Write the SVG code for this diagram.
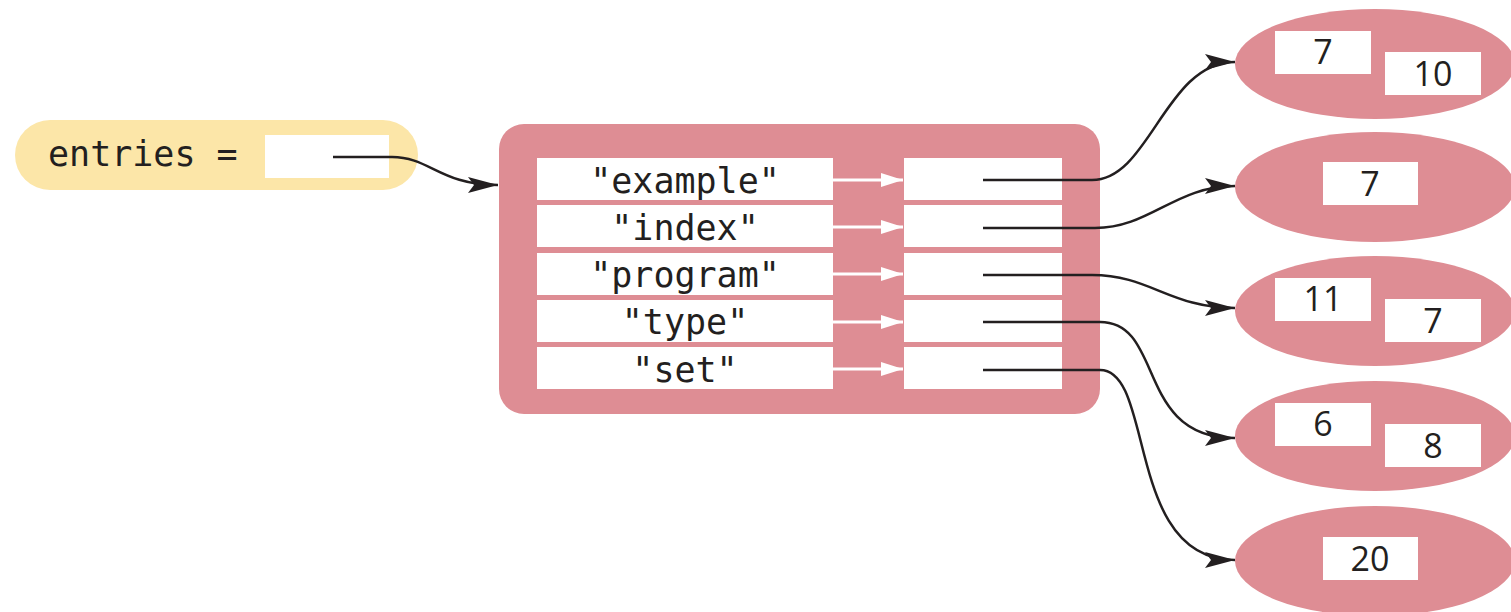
<svg xmlns="http://www.w3.org/2000/svg" width="1511" height="612" viewBox="0 0 1511 612">
<defs>
<style>
.pink{fill:#DE8D94}
.wb{fill:#FFFFFF}
.mono{font-family:"DejaVu Sans Mono","Liberation Mono",monospace;font-size:35px;fill:#231F20}
.num{font-family:"Open Sans","Liberation Sans",sans-serif;font-size:34px;fill:#231F20;text-anchor:middle}
.conn{fill:none;stroke:#231F20;stroke-width:2.5}
.wconn{fill:none;stroke:#FFFFFF;stroke-width:3}
</style>
<marker id="ah" markerUnits="userSpaceOnUse" markerWidth="32" markerHeight="20" refX="30" refY="10" orient="auto">
<path d="M0,2 L30,10 L0,18 L6,10 Z" fill="#231F20"/>
</marker>
<marker id="wah" markerUnits="userSpaceOnUse" markerWidth="24" markerHeight="16" refX="22" refY="8" orient="auto">
<path d="M0,1 L22,8 L0,15 Z" fill="#FFFFFF"/>
</marker>
</defs>
<rect width="1511" height="612" fill="#FFFFFF"/>

<g id="entries">
<rect x="15" y="120" width="403" height="70" rx="35" fill="#FCE6A8"/>
<text class="mono" x="48" y="166">entries =</text>
<rect class="wb" x="265" y="135" width="124" height="43"/>
</g>

<g id="map">
<rect class="pink" x="499" y="124" width="601" height="290" rx="25"/>
<rect class="wb" x="537" y="158" width="296" height="42"/>
<rect class="wb" x="537" y="205" width="296" height="42"/>
<rect class="wb" x="537" y="253" width="296" height="42"/>
<rect class="wb" x="537" y="300" width="296" height="42"/>
<rect class="wb" x="537" y="347" width="296" height="42"/>
<rect class="wb" x="904" y="158" width="158" height="42"/>
<rect class="wb" x="904" y="205" width="158" height="42"/>
<rect class="wb" x="904" y="253" width="158" height="42"/>
<rect class="wb" x="904" y="300" width="158" height="42"/>
<rect class="wb" x="904" y="347" width="158" height="42"/>
<g class="mono" text-anchor="middle">
<text x="685" y="193">"example"</text>
<text x="685" y="240">"index"</text>
<text x="685" y="287">"program"</text>
<text x="685" y="334">"type"</text>
<text x="685" y="382">"set"</text>
</g>
<path class="wconn" d="M833 180 H903" marker-end="url(#wah)"/>
<path class="wconn" d="M833 227 H903" marker-end="url(#wah)"/>
<path class="wconn" d="M833 274 H903" marker-end="url(#wah)"/>
<path class="wconn" d="M833 322 H903" marker-end="url(#wah)"/>
<path class="wconn" d="M833 369 H903" marker-end="url(#wah)"/>
</g>

<g id="set1">
<ellipse class="pink" cx="1375" cy="64" rx="140" ry="55"/>
<rect class="wb" x="1275" y="31" width="96" height="43"/>
<rect class="wb" x="1385" y="52" width="96" height="43"/>
<text class="num" x="1323" y="64">7</text>
<text class="num" x="1433" y="86">10</text>
</g>
<g id="set2">
<ellipse class="pink" cx="1375" cy="187" rx="140" ry="55"/>
<rect class="wb" x="1323" y="162" width="95" height="43"/>
<text class="num" x="1370" y="196">7</text>
</g>
<g id="set3">
<ellipse class="pink" cx="1375" cy="311" rx="140" ry="55"/>
<rect class="wb" x="1275" y="278" width="96" height="43"/>
<rect class="wb" x="1385" y="299" width="96" height="43"/>
<text class="num" x="1323" y="311">11</text>
<text class="num" x="1433" y="333">7</text>
</g>
<g id="set4">
<ellipse class="pink" cx="1375" cy="436" rx="140" ry="55"/>
<rect class="wb" x="1275" y="403" width="96" height="43"/>
<rect class="wb" x="1385" y="424" width="96" height="43"/>
<text class="num" x="1323" y="436">6</text>
<text class="num" x="1433" y="458">8</text>
</g>
<g id="set5">
<ellipse class="pink" cx="1375" cy="561" rx="140" ry="55"/>
<rect class="wb" x="1323" y="537" width="95" height="43"/>
<text class="num" x="1370" y="571">20</text>
</g>

<g id="connectors">
<path class="conn" d="M333 157 H392 C430 157 440 185 498 185" marker-end="url(#ah)"/>
<path class="conn" d="M983 180 H1092 C1150 180 1165 62 1235 62" marker-end="url(#ah)"/>
<path class="conn" d="M983 228 H1095 C1150 228 1175 186 1235 186" marker-end="url(#ah)"/>
<path class="conn" d="M983 275 H1092 C1150 275 1170 308 1235 308" marker-end="url(#ah)"/>
<path class="conn" d="M983 322 H1100 C1165 322 1135 438 1235 438" marker-end="url(#ah)"/>
<path class="conn" d="M983 370 H1100 C1155 370 1125 560 1235 560" marker-end="url(#ah)"/>
</g>
</svg>
